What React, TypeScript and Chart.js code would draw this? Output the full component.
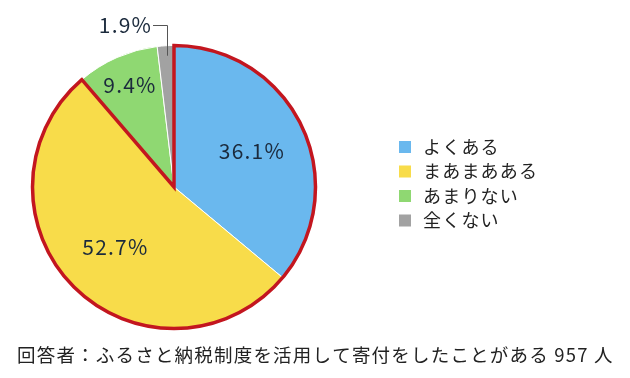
import React, { useEffect, useRef } from "react";
import { Chart, registerables } from "chart.js";

Chart.register(...registerables);

const categories = ["よくある", "まあまあある", "あまりない", "全くない"];
const values = [36.1, 52.7, 9.4, 1.9];
const valueLabels = ["36.1%", "52.7%", "9.4%", "1.9%"];
const sliceColors = ["#6ab8ee", "#f8dc4a", "#8fd872", "#a2a2a2"];
const footerText = "回答者：ふるさと納税制度を活用して寄付をしたことがある 957 人";
// radial fraction at which to draw each in-slice label (null = leader label)
const labelRadius = [0.6, 0.6, 0.79, null];
const highlighted = [0, 1];

const FONT = '"Noto Sans CJK JP", "Noto Sans", sans-serif';

const overlayPlugin = {
  id: "overlay",
  afterDatasetsDraw(chart: any) {
    const ctx = chart.ctx;
    const meta = chart.getDatasetMeta(0);
    const arcs = meta.data;
    const a0 = arcs[highlighted[0]];
    const a1 = arcs[highlighted[highlighted.length - 1]];
    const cx = a0.x, cy = a0.y, r = a0.outerRadius;

    // red outline around highlighted group
    ctx.save();
    ctx.beginPath();
    ctx.moveTo(cx, cy);
    ctx.lineTo(cx + r * Math.cos(a0.startAngle), cy + r * Math.sin(a0.startAngle));
    ctx.arc(cx, cy, r, a0.startAngle, a1.endAngle);
    ctx.closePath();
    ctx.strokeStyle = "#c3161f";
    ctx.lineWidth = 3.5;
    ctx.lineJoin = "miter";
    ctx.stroke();
    ctx.restore();

    // value labels
    ctx.save();
    ctx.fillStyle = "#1b2a3c";
    ctx.font = `21px ${FONT}`;
    (ctx as any).letterSpacing = "1.2px";
    ctx.textBaseline = "middle";
    arcs.forEach((arc: any, i: number) => {
      const mid = (arc.startAngle + arc.endAngle) / 2;
      const f = labelRadius[i];
      if (f != null) {
        ctx.textAlign = "center";
        ctx.fillText(valueLabels[i], cx + r * f * Math.cos(mid) + 1, cy + r * f * Math.sin(mid));
      } else {
        const px = cx + (r - 10) * Math.cos(mid) + 1;
        const py = cy + (r - 10) * Math.sin(mid);
        const topY = cy - r - 21;
        ctx.save();
        ctx.strokeStyle = "#555";
        ctx.lineWidth = 1;
        ctx.beginPath();
        ctx.moveTo(Math.round(px) + 0.5, py);
        ctx.lineTo(Math.round(px) + 0.5, Math.round(topY) + 0.5);
        ctx.lineTo(Math.round(px) - 14, Math.round(topY) + 0.5);
        ctx.stroke();
        ctx.restore();
        ctx.textAlign = "right";
        ctx.fillText(valueLabels[i], px - 15, topY + 1);
      }
    });
    ctx.restore();

    // legend
    ctx.save();
    ctx.font = `18px ${FONT}`;
    (ctx as any).letterSpacing = "1.2px";
    ctx.textAlign = "left";
    ctx.textBaseline = "middle";
    categories.forEach((c, i) => {
      const y = 147 + i * 24.5;
      ctx.fillStyle = sliceColors[i];
      ctx.fillRect(399, y - 6, 12, 12);
      ctx.fillStyle = "#222";
      ctx.fillText(c, 423, y);
    });
    // footer
    ctx.font = `18.5px ${FONT}`;
    (ctx as any).letterSpacing = "1.2px";
    ctx.fillStyle = "#222";
    ctx.fillText(footerText, 17, 355);
    ctx.restore();
  },
};

export default function App() {
  const ref = useRef<HTMLCanvasElement>(null);
  useEffect(() => {
    document.body.style.margin = "0";
    const chart = new Chart(ref.current!, {
      type: "pie",
      data: {
        labels: categories,
        datasets: [
          {
            data: values,
            backgroundColor: sliceColors,
            borderColor: "#ffffff",
            borderWidth: 1,
          },
        ],
      },
      options: {
        responsive: false,
        animation: false,
        layout: { padding: { left: 32, top: 45, right: 314, bottom: 49 } },
        plugins: { legend: { display: false }, tooltip: { enabled: false } },
      },
      plugins: [overlayPlugin],
    });
    return () => chart.destroy();
  }, []);
  return (
    <div style={{ width: 630, height: 378, background: "#fff" }}>
      <canvas ref={ref} width={630} height={378} />
    </div>
  );
}
